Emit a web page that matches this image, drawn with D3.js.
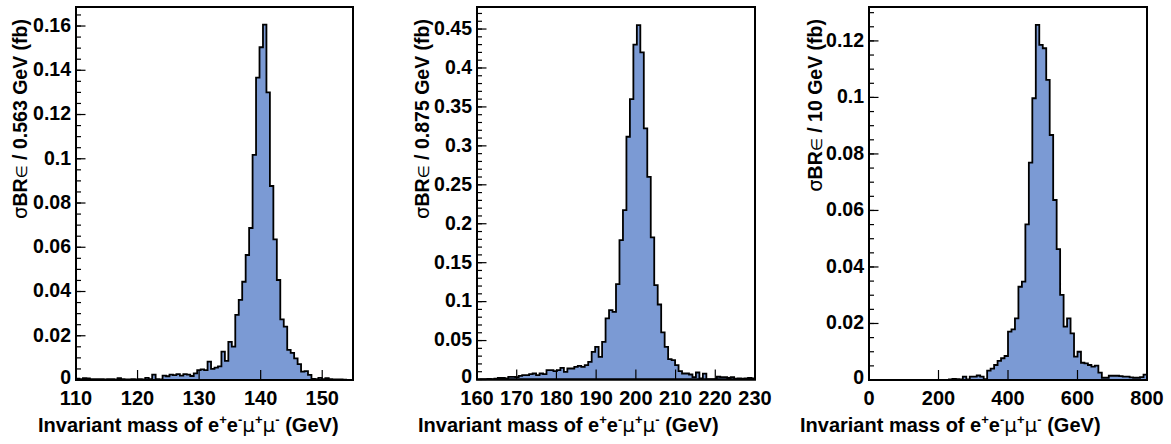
<!DOCTYPE html>
<html>
<head>
<meta charset="utf-8">
<script src="https://cdn.jsdelivr.net/npm/d3@7"></script>
<style>
  html, body { margin: 0; padding: 0; background: #fff; }
  svg { display: block; }
  text { font-family: "Liberation Sans", Arial, Helvetica, sans-serif; font-weight: bold; fill: #000; }
</style>
</head>
<body>
<svg id="chart" width="1171" height="444"></svg>
<script>
// ---------------- data ----------------
const p1Range = [110, 155];
const p1Values = [
  0.0006,0.0004,0.0008,0.0007,0.0004,0.0004,0.0004,0.0004,0.0003,0.0004,
  0.0004,0.0003,0.0008,0.0004,0.0003,0.0003,0.0004,0.0003,0.0004,0.0003,
  0.0010,0.0004,0.0024,0.0004,0.0003,0.0020,0.0017,0.0024,0.0022,0.0027,
  0.0020,0.0027,0.0024,0.0018,0.0030,0.0045,0.0048,0.0045,0.0083,0.0050,
  0.0056,0.0062,0.0128,0.0086,0.0172,0.0151,0.0294,0.0362,0.0444,0.0565,
  0.0687,0.1018,0.1367,0.1504,0.1606,0.1300,0.0877,0.0636,0.0452,0.0274,
  0.0241,0.0136,0.0123,0.0098,0.0072,0.0038,0.0040,0.0023,0.0005,0.0004,
  0.0010,0.0004,0.0008,0.0004,0.0003,0.0003,0.0003,0.0002,0.0000,0.0000
];
const p1XTicks = [110, 120, 130, 140, 150];
const p1YTicks = [0, 0.02, 0.04, 0.06, 0.08, 0.1, 0.12, 0.14, 0.16];

const p2Range = [160, 230];
const p2Values = [
  0.0002,0.0003,0.0003,0.0008,0.0005,0.0010,0.0020,0.0020,0.0015,0.0034,
  0.0034,0.0030,0.0047,0.0056,0.0056,0.0068,0.0077,0.0056,0.0077,0.0068,
  0.0120,0.0120,0.0107,0.0120,0.0150,0.0098,0.0141,0.0141,0.0163,0.0175,
  0.0163,0.0184,0.0226,0.0355,0.0419,0.0290,0.0483,0.0784,0.0890,0.0869,
  0.1224,0.1790,0.2175,0.3117,0.3600,0.4300,0.4550,0.4200,0.3224,0.2603,
  0.1824,0.1211,0.0963,0.0604,0.0419,0.0261,0.0248,0.0184,0.0107,0.0077,
  0.0077,0.0064,0.0030,0.0090,0.0015,0.0075,0.0006,0.0005,0.0005,0.0035,
  0.0030,0.0030,0.0020,0.0030,0.0010,0.0015,0.0010,0.0013,0.0020,0.0013
];
const p2XTicks = [160, 170, 180, 190, 200, 210, 220, 230];
const p2YTicks = [0, 0.05, 0.1, 0.15, 0.2, 0.25, 0.3, 0.35, 0.4, 0.45];

const p3Range = [0, 800];
const p3Values = [
  0,0,0,0,0,0,0,0,0,0,
  0,0,0,0,0,0,0,0,0,0,
  0,0,0,0.0002,0.0004,0.0003,0.0002,0.0012,0.0002,0.0012,
  0.0012,0.0016,0.0012,0.0003,0.0033,0.0040,0.0053,0.0068,0.0077,0.0085,
  0.0171,0.0179,0.0218,0.0330,0.0348,0.0551,0.0769,0.0997,0.1257,0.1186,
  0.1174,0.1062,0.0867,0.0637,0.0463,0.0301,0.0189,0.0218,0.0165,0.0083,
  0.0100,0.0061,0.0059,0.0053,0.0047,0.0051,0.0026,0.0008,0.0008,0.0015,
  0.0015,0.0015,0.0014,0.0012,0.0012,0.0009,0.0008,0.0008,0.0010,0.0019
];
const p3XTicks = [0, 200, 400, 600, 800];
const p3YTicks = [0, 0.02, 0.04, 0.06, 0.08, 0.1, 0.12];

const yTitles = ["/ 0.563 GeV (fb)", "/ 0.875 GeV (fb)", "/ 10 GeV (fb)"];
const xTitleParts = ["Invariant mass of e", "+", "e", "-", "\u03bc", "+", "\u03bc", "-", " (GeV)"];

// ---------------- layout ----------------
const panels = [
  { range: p1Range, values: p1Values, xTicks: p1XTicks, yTicks: p1YTicks, yMax: 0.1686, yMinor: 0.005,
    box: { l: 76, r: 353, t: 7, b: 380 }, yTitle: yTitles[0], yTitleX: 27, xTitleX: 38 },
  { range: p2Range, values: p2Values, xTicks: p2XTicks, yTicks: p2YTicks, yMax: 0.4783, yMinor: 0.01,
    box: { l: 477, r: 755, t: 7, b: 379.5 }, yTitle: yTitles[1], yTitleX: 429, xTitleX: 418 },
  { range: p3Range, values: p3Values, xTicks: p3XTicks, yTicks: p3YTicks, yMax: 0.132, yMinor: 0.005,
    box: { l: 869, r: 1147, t: 7, b: 380 }, yTitle: yTitles[2], yTitleX: 822, xTitleX: 800 }
];

const svg = d3.select("#chart");
const fillColor = "#7b9ad4";
const fmt = v => String(+v.toFixed(4));

panels.forEach(p => {
  const x = d3.scaleLinear().domain(p.range).range([p.box.l, p.box.r]);
  const y = d3.scaleLinear().domain([0, p.yMax]).range([p.box.b, p.box.t]);
  const n = p.values.length;
  const w = (p.range[1] - p.range[0]) / n;
  const g = svg.append("g");

  // histogram step path
  const pts = [[p.range[0], 0]];
  p.values.forEach((v, i) => {
    pts.push([p.range[0] + i * w, v]);
    pts.push([p.range[0] + (i + 1) * w, v]);
  });
  pts.push([p.range[1], 0]);
  const line = d3.line().x(d => x(d[0])).y(d => y(d[1]));
  g.append("path").attr("d", line(pts) + "Z")
    .attr("fill", fillColor).attr("stroke", "#000").attr("stroke-width", 1.8)
    .attr("stroke-linejoin", "miter");

  // y minor ticks
  const minor = d3.range(0, p.yMax + 1e-9, p.yMinor);
  g.selectAll(".ymin").data(minor).join("line")
    .attr("x1", p.box.l).attr("x2", p.box.l + 5)
    .attr("y1", d => y(d)).attr("y2", d => y(d))
    .attr("stroke", "#000").attr("stroke-width", 1.2);
  // y major ticks
  g.selectAll(".ymaj").data(p.yTicks).join("line")
    .attr("x1", p.box.l).attr("x2", p.box.l + 9.5)
    .attr("y1", d => y(d)).attr("y2", d => y(d))
    .attr("stroke", "#000").attr("stroke-width", 1.2);
  // x major ticks
  g.selectAll(".xmaj").data(p.xTicks).join("line")
    .attr("x1", d => x(d)).attr("x2", d => x(d))
    .attr("y1", p.box.b).attr("y2", p.box.b - 10)
    .attr("stroke", "#000").attr("stroke-width", 1.2);

  // frame
  g.append("rect").attr("x", p.box.l).attr("y", p.box.t)
    .attr("width", p.box.r - p.box.l).attr("height", p.box.b - p.box.t)
    .attr("fill", "none").attr("stroke", "#000").attr("stroke-width", 2);

  // y labels
  g.selectAll(".ylab").data(p.yTicks).join("text")
    .attr("x", p.box.l - 5).attr("y", d => y(d)).attr("dy", d => d === 0 ? "0.2em" : "0.3em")
    .attr("text-anchor", "end").attr("font-size", 19.5).text(fmt);
  // x labels
  g.selectAll(".xlab").data(p.xTicks).join("text")
    .attr("x", d => x(d)).attr("y", p.box.b + 25)
    .attr("text-anchor", "middle").attr("font-size", 20).text(d => String(d));

  // y title
  const yt = g.append("text")
    .attr("transform", `translate(${p.yTitleX},${p.box.t + 12}) rotate(-90)`)
    .attr("text-anchor", "end").attr("font-size", 19.5);
  yt.append("tspan").attr("font-weight", "normal").attr("font-family", "DejaVu Sans").text("\u03c3");
  yt.append("tspan").text("BR");
  yt.append("tspan").attr("font-weight", "normal").attr("font-family", "DejaVu Sans")
    .attr("font-size", 15).text("\u2208");
  yt.append("tspan").text(" " + p.yTitle);

  // x title
  const xt = g.append("text").attr("x", p.xTitleX).attr("y", 432).attr("font-size", 20);
  xTitleParts.forEach((s, i) => {
    const sup = (s === "+" || s === "-");
    const greek = s === "\u03bc";
    const ts = xt.append("tspan").text(s);
    if (sup) {
      ts.attr("font-size", 13).attr("dy", -8);
    } else if (i > 0) {
      const prevSup = xTitleParts[i - 1] === "+" || xTitleParts[i - 1] === "-";
      if (prevSup) ts.attr("dy", 8);
    }
    if (greek) ts.attr("font-weight", "normal").attr("font-family", "DejaVu Sans");
  });
});
</script>
</body>
</html>
